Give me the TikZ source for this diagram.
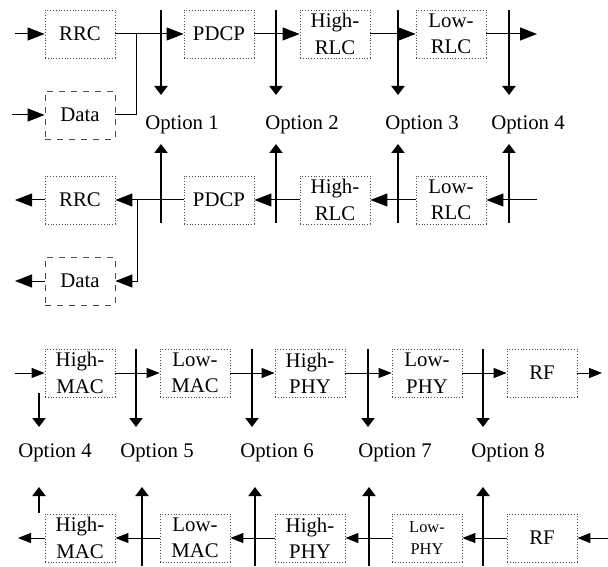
\documentclass[tikz,border=0pt]{standalone}
\usepackage{fontspec}
\setmainfont{Liberation Serif}
\usetikzlibrary{arrows.meta,calc,positioning}

\tikzset{
  blk/.style={draw=black!70, densely dotted, thin, minimum width=35pt, minimum height=24pt,
              inner sep=1pt, align=center, font=\fontsize{10.4}{13.2}\selectfont},
  dblk/.style={blk, dashed},
  lnk/.style={-{Triangle[length=8.5pt,width=6.5pt]}, line width=0.5pt},
  lnks/.style={-{Triangle[length=6.5pt,width=5pt]}, line width=0.5pt},
  cut/.style={-{Triangle[length=4.5pt,width=6.5pt]}, line width=1.1pt},
  opt/.style={font=\fontsize{10.4}{12}\selectfont, inner sep=0pt}
}

\begin{document}
\begin{tikzpicture}[x=0.5pt, y=-0.5pt]
  \useasboundingbox (0,0) rectangle (608,566);
  % first row, upper layers
  \node[blk] (rrc1) at (80,34) {RRC};
  \node[dblk] (dat1) at (80,115) {Data};
  \node[blk] (pdcp1) at (219,34) {PDCP};
  \node[blk] (hrlc1) at (335,34) {High-\\RLC};
  \node[blk] (lrlc1) at (451,34) {Low-\\RLC};
  \coordinate (in1) at (15,34);
  \coordinate (ind1) at (12,115);
  \coordinate (j1) at (136,34);
  \coordinate (out1) at (537,34);
  \draw[lnk] (in1) -- (rrc1.west);
  \draw[lnk] (ind1) -- (dat1.west);
  \draw[line width=0.5pt] (rrc1.east) -- (j1);
  \draw[line width=0.5pt] (dat1.east) -| (j1);
  \draw[lnk] (j1) -- (pdcp1.west);
  \draw[lnk] (pdcp1.east) -- (hrlc1.west);
  \draw[lnk] (hrlc1.east) -- (lrlc1.west);
  \draw[lnk] (lrlc1.east) -- (out1);
  % second row
  \node[blk] (rrc2) at (80,200) {RRC};
  \node[dblk] (dat2) at (80,281) {Data};
  \node[blk] (pdcp2) at (219,200) {PDCP};
  \node[blk] (hrlc2) at (335,200) {High-\\RLC};
  \node[blk] (lrlc2) at (451,200) {Low-\\RLC};
  \coordinate (in2) at (537,200);
  \coordinate (j2) at (137,200);
  \coordinate (out2) at (15,200);
  \coordinate (outd2) at (15,281);
  \draw[lnk] (in2) -- (lrlc2.east);
  \draw[lnk] (lrlc2.west) -- (hrlc2.east);
  \draw[lnk] (hrlc2.west) -- (pdcp2.east);
  \draw[line width=0.5pt] (pdcp2.west) -- (j2);
  \draw[lnk] (j2) -- (rrc2.east);
  \draw[lnk] (j2) |- (dat2.east);
  \draw[lnk] (rrc2.west) -- (out2);
  \draw[lnk] (dat2.west) -- (outd2);
  % split options 1-4
  \foreach \x/\n in {161/1,276/2,398/3,509/4} {
    \coordinate (a\n) at (\x,10);
    \coordinate (b\n) at (\x,95);
    \coordinate (c\n) at (\x,223);
    \coordinate (d\n) at (\x,144);
    \draw[cut] (a\n) -- (b\n);
    \draw[cut] (c\n) -- (d\n);
  }
  \node[opt] (o1) at (182,125) {Option 1};
  \node[opt] (o2) at (302,125) {Option 2};
  \node[opt] (o3) at (422,125) {Option 3};
  \node[opt] (o4) at (528,125) {Option 4};
  % third row, lower layers
  \node[blk] (hmac3) at (80,373) {High-\\MAC};
  \node[blk] (lmac3) at (195,373) {Low-\\MAC};
  \node[blk] (hphy3) at (310,373) {High-\\PHY};
  \node[blk] (lphy3) at (427,373) {Low-\\PHY};
  \node[blk] (rf3) at (542,373) {RF};
  \coordinate (in3) at (15,373);
  \coordinate (out3) at (602,373);
  \draw[lnks] (in3) -- (hmac3.west);
  \draw[lnks] (hmac3.east) -- (lmac3.west);
  \draw[lnks] (lmac3.east) -- (hphy3.west);
  \draw[lnks] (hphy3.east) -- (lphy3.west);
  \draw[lnks] (lphy3.east) -- (rf3.west);
  \draw[lnks] (rf3.east) -- (out3);
  % fourth row
  \node[blk] (hmac4) at (80,538) {High-\\MAC};
  \node[blk] (lmac4) at (195,538) {Low-\\MAC};
  \node[blk] (hphy4) at (310,538) {High-\\PHY};
  \node[blk, font=\fontsize{8.2}{11}\selectfont] (lphy4) at (427,538) {Low-\\PHY};
  \node[blk] (rf4) at (542,538) {RF};
  \coordinate (in4) at (608,538);
  \coordinate (out4) at (18,538);
  \draw[lnks] (in4) -- (rf4.east);
  \draw[lnks] (rf4.west) -- (lphy4.east);
  \draw[lnks] (lphy4.west) -- (hphy4.east);
  \draw[lnks] (hphy4.west) -- (lmac4.east);
  \draw[lnks] (lmac4.west) -- (hmac4.east);
  \draw[lnks] (hmac4.west) -- (out4);
  % split options 4-8
  \coordinate (e0) at (39,393);
  \coordinate (f0) at (39,427);
  \coordinate (g0) at (39,513);
  \coordinate (h0) at (39,487);
  \draw[cut] (e0) -- (f0);
  \draw[cut] (g0) -- (h0);
  \foreach \x/\y/\n in {136/142/5,252/255/6,368/369/7,483/483/8} {
    \coordinate (e\n) at (\x,349);
    \coordinate (f\n) at (\x,427);
    \coordinate (g\n) at (\y,566);
    \coordinate (h\n) at (\y,487);
    \draw[cut] (e\n) -- (f\n);
    \draw[cut] (g\n) -- (h\n);
  }
  \node[opt] (p4) at (55,453) {Option 4};
  \node[opt] (p5) at (157,453) {Option 5};
  \node[opt] (p6) at (277,453) {Option 6};
  \node[opt] (p7) at (395,453) {Option 7};
  \node[opt] (p8) at (508,453) {Option 8};
\end{tikzpicture}
\end{document}
